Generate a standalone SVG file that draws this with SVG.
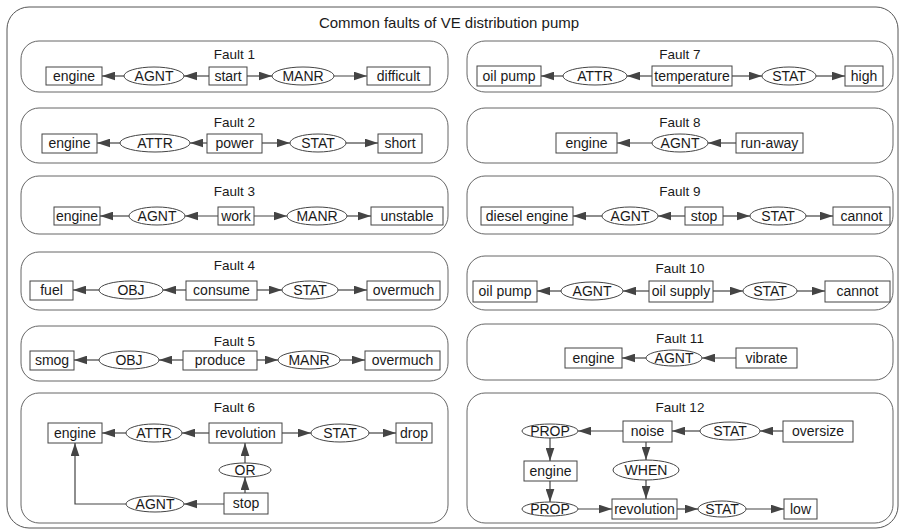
<svg xmlns="http://www.w3.org/2000/svg" width="899" height="531" viewBox="0 0 899 531">
<defs>
<marker id="ah" viewBox="0 0 12 8" refX="12" refY="4" markerWidth="13" markerHeight="9" markerUnits="userSpaceOnUse" orient="auto">
<path d="M0,0 L12,4 L0,8 z" fill="#444"/>
</marker>
<style>
.frame{fill:#fff;stroke:#555;stroke-width:1}
.panel{fill:#fff;stroke:#666;stroke-width:1}
.box{fill:#fff;stroke:#444;stroke-width:1}
.rel{fill:#fff;stroke:#444;stroke-width:1}
text{font-family:"Liberation Sans",Arial,sans-serif;font-size:14px;fill:#1a1a1a;text-anchor:middle}
.title{font-size:15px}
.ft{font-size:13.5px}
#connectors line,#connectors polyline{stroke:#444;stroke-width:1.2;fill:none;marker-end:url(#ah)}
</style>
</defs>
<rect width="899" height="531" fill="#fff"/>
<rect class="frame" x="7" y="7" width="891" height="521" rx="22"/>
<text class="title" x="449" y="28">Common faults of VE distribution pump</text>

<g id="panels">
<rect class="panel" x="21" y="41" width="427" height="51" rx="18"/>
<rect class="panel" x="21" y="108" width="427" height="55" rx="18"/>
<rect class="panel" x="21" y="176" width="427" height="58" rx="18"/>
<rect class="panel" x="21" y="252" width="427" height="58" rx="18"/>
<rect class="panel" x="21" y="326" width="427" height="55" rx="18"/>
<rect class="panel" x="21" y="393" width="427" height="130" rx="18"/>
<rect class="panel" x="467" y="41" width="426" height="51" rx="18"/>
<rect class="panel" x="467" y="108" width="426" height="55" rx="18"/>
<rect class="panel" x="467" y="176" width="426" height="58" rx="18"/>
<rect class="panel" x="467" y="256" width="426" height="54" rx="18"/>
<rect class="panel" x="467" y="324" width="426" height="56" rx="18"/>
<rect class="panel" x="467" y="393" width="426" height="130" rx="18"/>
<text class="ft" x="234.5" y="59">Fault 1</text>
<text class="ft" x="234.5" y="127">Fault 2</text>
<text class="ft" x="234.5" y="196">Fault 3</text>
<text class="ft" x="234.5" y="270">Fault 4</text>
<text class="ft" x="234.5" y="346">Fault 5</text>
<text class="ft" x="234.5" y="412">Fault 6</text>
<text class="ft" x="680" y="59">Fault 7</text>
<text class="ft" x="680" y="127">Fault 8</text>
<text class="ft" x="680" y="196">Fault 9</text>
<text class="ft" x="680" y="273">Fault 10</text>
<text class="ft" x="680" y="343">Fault 11</text>
<text class="ft" x="680" y="412">Fault 12</text>
</g>

<g id="connectors">
<line x1="124" y1="76" x2="102" y2="76"/>
<line x1="209" y1="76" x2="184" y2="76"/>
<line x1="247" y1="76" x2="272" y2="76"/>
<line x1="334" y1="76" x2="367" y2="76"/>
<line x1="120" y1="143" x2="97" y2="143"/>
<line x1="207" y1="143" x2="190" y2="143"/>
<line x1="262" y1="143" x2="290" y2="143"/>
<line x1="346" y1="143" x2="378" y2="143"/>
<line x1="129" y1="216" x2="100" y2="216"/>
<line x1="218" y1="216" x2="185" y2="216"/>
<line x1="254" y1="216" x2="287" y2="216"/>
<line x1="347" y1="216" x2="371" y2="216"/>
<line x1="99" y1="290" x2="73" y2="290"/>
<line x1="186" y1="290" x2="163" y2="290"/>
<line x1="257" y1="290" x2="282" y2="290"/>
<line x1="338" y1="290" x2="367" y2="290"/>
<line x1="99" y1="360" x2="74" y2="360"/>
<line x1="183" y1="360" x2="159" y2="360"/>
<line x1="257" y1="360" x2="278" y2="360"/>
<line x1="340" y1="360" x2="365" y2="360"/>
<line x1="126" y1="433" x2="102" y2="433"/>
<line x1="209" y1="433" x2="182" y2="433"/>
<line x1="282" y1="433" x2="311" y2="433"/>
<line x1="369" y1="433" x2="396" y2="433"/>
<line x1="245" y1="463" x2="245" y2="443"/>
<line x1="245" y1="493" x2="245" y2="477"/>
<line x1="224" y1="504" x2="184" y2="504"/>
<polyline points="126,504 75,504 75,443"/>
<line x1="563" y1="76" x2="541" y2="76"/>
<line x1="652" y1="76" x2="627" y2="76"/>
<line x1="732" y1="76" x2="762" y2="76"/>
<line x1="816" y1="76" x2="845" y2="76"/>
<line x1="652" y1="143" x2="617" y2="143"/>
<line x1="736" y1="143" x2="708" y2="143"/>
<line x1="602" y1="216" x2="573" y2="216"/>
<line x1="685" y1="216" x2="658" y2="216"/>
<line x1="723" y1="216" x2="750" y2="216"/>
<line x1="806" y1="216" x2="833" y2="216"/>
<line x1="561" y1="291" x2="537" y2="291"/>
<line x1="649" y1="291" x2="623" y2="291"/>
<line x1="713" y1="291" x2="743" y2="291"/>
<line x1="797" y1="291" x2="825" y2="291"/>
<line x1="646" y1="358" x2="622" y2="358"/>
<line x1="736" y1="358" x2="702" y2="358"/>
<line x1="623" y1="431" x2="578" y2="431"/>
<line x1="550" y1="438" x2="550" y2="461"/>
<line x1="550" y1="481" x2="550" y2="502"/>
<line x1="578" y1="509" x2="612" y2="509"/>
<line x1="646" y1="442" x2="646" y2="460"/>
<line x1="646" y1="480" x2="646" y2="499"/>
<line x1="783" y1="431" x2="760" y2="431"/>
<line x1="700" y1="431" x2="672" y2="431"/>
<line x1="677" y1="509" x2="698" y2="509"/>
<line x1="746" y1="509" x2="784" y2="509"/>
</g>

<g id="f1-engine"><rect class="box" x="46" y="67" width="56" height="18"/><text x="74" y="81">engine</text></g>
<g id="f1-agnt"><ellipse class="rel" cx="154" cy="76" rx="30" ry="9"/><text x="154" y="81">AGNT</text></g>
<g id="f1-start"><rect class="box" x="209" y="67" width="38" height="18"/><text x="228" y="81">start</text></g>
<g id="f1-manr"><ellipse class="rel" cx="303" cy="76" rx="31" ry="9"/><text x="303" y="81">MANR</text></g>
<g id="f1-difficult"><rect class="box" x="367" y="67" width="63" height="18"/><text x="398.5" y="81">difficult</text></g>

<g id="f2-engine"><rect class="box" x="42" y="134" width="55" height="19"/><text x="69.5" y="148">engine</text></g>
<g id="f2-attr"><ellipse class="rel" cx="155" cy="143" rx="35" ry="9"/><text x="155" y="148">ATTR</text></g>
<g id="f2-power"><rect class="box" x="207" y="134" width="55" height="19"/><text x="234.5" y="148">power</text></g>
<g id="f2-stat"><ellipse class="rel" cx="318" cy="143" rx="28" ry="9"/><text x="318" y="148">STAT</text></g>
<g id="f2-short"><rect class="box" x="378" y="134" width="44" height="19"/><text x="400" y="148">short</text></g>

<g id="f3-engine"><rect class="box" x="54" y="207" width="46" height="18"/><text x="77" y="221">engine</text></g>
<g id="f3-agnt"><ellipse class="rel" cx="157" cy="216" rx="28" ry="9"/><text x="157" y="221">AGNT</text></g>
<g id="f3-work"><rect class="box" x="218" y="207" width="36" height="18"/><text x="236" y="221">work</text></g>
<g id="f3-manr"><ellipse class="rel" cx="317" cy="216" rx="30" ry="9"/><text x="317" y="221">MANR</text></g>
<g id="f3-unstable"><rect class="box" x="371" y="207" width="72" height="18"/><text x="407" y="221">unstable</text></g>

<g id="f4-fuel"><rect class="box" x="30" y="281" width="43" height="19"/><text x="51.5" y="295">fuel</text></g>
<g id="f4-obj"><ellipse class="rel" cx="131" cy="290" rx="32" ry="9"/><text x="131" y="295">OBJ</text></g>
<g id="f4-consume"><rect class="box" x="186" y="281" width="71" height="19"/><text x="221.5" y="295">consume</text></g>
<g id="f4-stat"><ellipse class="rel" cx="310" cy="290" rx="28" ry="9"/><text x="310" y="295">STAT</text></g>
<g id="f4-overmuch"><rect class="box" x="367" y="281" width="73" height="19"/><text x="403.5" y="295">overmuch</text></g>

<g id="f5-smog"><rect class="box" x="30" y="351" width="44" height="19"/><text x="52" y="365">smog</text></g>
<g id="f5-obj"><ellipse class="rel" cx="129" cy="360" rx="30" ry="9"/><text x="129" y="365">OBJ</text></g>
<g id="f5-produce"><rect class="box" x="183" y="351" width="74" height="19"/><text x="220" y="365">produce</text></g>
<g id="f5-manr"><ellipse class="rel" cx="309" cy="360" rx="31" ry="9"/><text x="309" y="365">MANR</text></g>
<g id="f5-overmuch"><rect class="box" x="365" y="351" width="75" height="19"/><text x="402.5" y="365">overmuch</text></g>

<g id="f6-engine"><rect class="box" x="48" y="423" width="54" height="20"/><text x="75" y="438">engine</text></g>
<g id="f6-attr"><ellipse class="rel" cx="154" cy="433" rx="28" ry="9"/><text x="154" y="438">ATTR</text></g>
<g id="f6-revolution"><rect class="box" x="209" y="423" width="73" height="20"/><text x="245.5" y="438">revolution</text></g>
<g id="f6-stat"><ellipse class="rel" cx="340" cy="433" rx="29" ry="9"/><text x="340" y="438">STAT</text></g>
<g id="f6-drop"><rect class="box" x="396" y="423" width="36" height="20"/><text x="414" y="438">drop</text></g>
<g id="f6-or"><ellipse class="rel" cx="245" cy="470" rx="26" ry="7"/><text x="245" y="475">OR</text></g>
<g id="f6-stop"><rect class="box" x="224" y="493" width="44" height="21"/><text x="246" y="508">stop</text></g>
<g id="f6-agnt"><ellipse class="rel" cx="155" cy="504" rx="29" ry="8"/><text x="155" y="509">AGNT</text></g>

<g id="f7-oilpump"><rect class="box" x="477" y="66" width="64" height="20"/><text x="509" y="81">oil pump</text></g>
<g id="f7-attr"><ellipse class="rel" cx="595" cy="76" rx="32" ry="9"/><text x="595" y="81">ATTR</text></g>
<g id="f7-temperature"><rect class="box" x="652" y="66" width="80" height="20"/><text x="692" y="81">temperature</text></g>
<g id="f7-stat"><ellipse class="rel" cx="789" cy="76" rx="27" ry="9"/><text x="789" y="81">STAT</text></g>
<g id="f7-high"><rect class="box" x="845" y="66" width="38" height="20"/><text x="864" y="81">high</text></g>

<g id="f8-engine"><rect class="box" x="556" y="133" width="61" height="20"/><text x="586.5" y="148">engine</text></g>
<g id="f8-agnt"><ellipse class="rel" cx="680" cy="143" rx="28" ry="9"/><text x="680" y="148">AGNT</text></g>
<g id="f8-runaway"><rect class="box" x="736" y="133" width="67" height="20"/><text x="769.5" y="148">run-away</text></g>

<g id="f9-diesel"><rect class="box" x="481" y="207" width="92" height="18"/><text x="527" y="221">diesel engine</text></g>
<g id="f9-agnt"><ellipse class="rel" cx="630" cy="216" rx="28" ry="9"/><text x="630" y="221">AGNT</text></g>
<g id="f9-stop"><rect class="box" x="685" y="207" width="38" height="18"/><text x="704" y="221">stop</text></g>
<g id="f9-stat"><ellipse class="rel" cx="778" cy="216" rx="28" ry="9"/><text x="778" y="221">STAT</text></g>
<g id="f9-cannot"><rect class="box" x="833" y="207" width="57" height="18"/><text x="861.5" y="221">cannot</text></g>

<g id="f10-oilpump"><rect class="box" x="473" y="281" width="64" height="21"/><text x="505" y="296">oil pump</text></g>
<g id="f10-agnt"><ellipse class="rel" cx="592" cy="291" rx="31" ry="9"/><text x="592" y="296">AGNT</text></g>
<g id="f10-oilsupply"><rect class="box" x="649" y="281" width="64" height="21"/><text x="681" y="296">oil supply</text></g>
<g id="f10-stat"><ellipse class="rel" cx="770" cy="291" rx="27" ry="9"/><text x="770" y="296">STAT</text></g>
<g id="f10-cannot"><rect class="box" x="825" y="281" width="65" height="21"/><text x="857.5" y="296">cannot</text></g>

<g id="f11-engine"><rect class="box" x="565" y="348" width="57" height="20"/><text x="593.5" y="363">engine</text></g>
<g id="f11-agnt"><ellipse class="rel" cx="674" cy="358" rx="28" ry="8"/><text x="674" y="363">AGNT</text></g>
<g id="f11-vibrate"><rect class="box" x="736" y="348" width="61" height="20"/><text x="766.5" y="363">vibrate</text></g>

<g id="f12-prop1"><ellipse class="rel" cx="550" cy="431" rx="28" ry="7"/><text x="550" y="436">PROP</text></g>
<g id="f12-noise"><rect class="box" x="623" y="421" width="49" height="21"/><text x="647.5" y="436">noise</text></g>
<g id="f12-stat1"><ellipse class="rel" cx="730" cy="431" rx="30" ry="9"/><text x="730" y="436">STAT</text></g>
<g id="f12-oversize"><rect class="box" x="783" y="421" width="70" height="21"/><text x="818" y="436">oversize</text></g>
<g id="f12-engine"><rect class="box" x="524" y="461" width="53" height="20"/><text x="550.5" y="476">engine</text></g>
<g id="f12-when"><ellipse class="rel" cx="646" cy="470" rx="33" ry="10"/><text x="646" y="475">WHEN</text></g>
<g id="f12-prop2"><ellipse class="rel" cx="550" cy="509" rx="28" ry="7"/><text x="550" y="514">PROP</text></g>
<g id="f12-revolution"><rect class="box" x="612" y="499" width="65" height="20"/><text x="644.5" y="514">revolution</text></g>
<g id="f12-stat2"><ellipse class="rel" cx="722" cy="509" rx="24" ry="8"/><text x="722" y="514">STAT</text></g>
<g id="f12-low"><rect class="box" x="784" y="499" width="33" height="20"/><text x="800.5" y="514">low</text></g>
</svg>
